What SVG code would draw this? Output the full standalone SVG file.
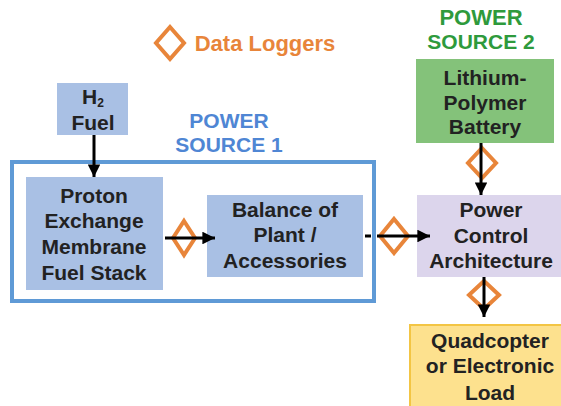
<svg xmlns="http://www.w3.org/2000/svg" width="561" height="406" viewBox="0 0 561 406">
<defs>
<style>
text{font-family:"Liberation Sans",Arial,sans-serif;font-weight:bold;font-size:21px;fill:#222;text-anchor:middle}
.blue{fill:#a9c0e4}
.dl{fill:none;stroke:#e8853a;stroke-width:4}
.ln{stroke:#000;stroke-width:3;fill:none}
</style>
<marker id="ah" viewBox="0 0 10 10" refX="10" refY="5" markerWidth="4.2" markerHeight="4.2" orient="auto" markerUnits="strokeWidth">
<path d="M0,0 L10,5 L0,10 Z" fill="#000"/>
</marker>
</defs>
<rect width="561" height="406" fill="#fff"/>

<g id="legend">
<path class="dl" d="M170,27 L184,43 L170,59 L156,43 Z"/>
<text x="265" y="51" style="fill:#e8853a;font-size:22px">Data Loggers</text>
</g>

<g id="power-source-1">
<rect x="12" y="162" width="362" height="139" fill="none" stroke="#5f9ad6" stroke-width="4"/>
<text x="229" y="128" style="fill:#4f86d4">POWER</text>
<text x="229" y="152" style="fill:#4f86d4">SOURCE 1</text>
</g>

<g id="power-source-2-label">
<text x="481" y="25" style="fill:#2e9a3c;font-size:22px">POWER</text>
<text x="481" y="49" style="fill:#2e9a3c">SOURCE 2</text>
</g>

<g id="h2-fuel">
<rect class="blue" x="57" y="83" width="71" height="52"/>
<text x="93" y="104">H<tspan font-size="12" dy="3">2</tspan></text>
<text x="93" y="130">Fuel</text>
</g>

<g id="pem-fuel-stack">
<rect class="blue" x="26" y="177" width="137" height="113"/>
<text x="94" y="203">Proton</text>
<text x="94" y="228">Exchange</text>
<text x="94" y="254">Membrane</text>
<text x="94" y="280">Fuel Stack</text>
</g>

<g id="balance-of-plant">
<rect class="blue" x="207" y="195" width="156" height="82"/>
<text x="285" y="217">Balance of</text>
<text x="285" y="242">Plant /</text>
<text x="285" y="268">Accessories</text>
</g>

<g id="battery">
<rect x="416" y="59" width="138" height="84" fill="#84c27a"/>
<text x="485" y="85">Lithium-</text>
<text x="485" y="110">Polymer</text>
<text x="485" y="134">Battery</text>
</g>

<g id="power-control">
<rect x="417" y="195" width="146" height="82" fill="#dcd5ec"/>
<text x="491" y="217">Power</text>
<text x="491" y="243">Control</text>
<text x="491" y="268">Architecture</text>
</g>

<g id="load">
<rect x="410" y="325" width="153" height="83" fill="#fde18e" stroke="#f3c544" stroke-width="2"/>
<text x="490" y="348">Quadcopter</text>
<text x="490" y="373">or Electronic</text>
<text x="490" y="400">Load</text>
</g>

<g id="data-loggers">
<path class="dl" d="M184,221 L195,238 L184,255 L173,238 Z"/>
<path class="dl" d="M394,219 L408,236 L394,253 L380,236 Z"/>
<path class="dl" d="M482,148 L496,163 L482,178 L468,163 Z"/>
<path class="dl" d="M484,281 L499,295 L484,309 L469,295 Z"/>
</g>

<g id="connectors">
<line class="ln" x1="94" y1="135" x2="94" y2="177" marker-end="url(#ah)"/>
<line class="ln" x1="165" y1="238" x2="215" y2="238" marker-end="url(#ah)"/>
<line class="ln" x1="365" y1="236" x2="371" y2="236"/>
<line class="ln" x1="377" y1="236" x2="430" y2="236" marker-end="url(#ah)"/>
<line class="ln" x1="481" y1="143" x2="481" y2="195" marker-end="url(#ah)"/>
<line class="ln" x1="484" y1="277" x2="484" y2="317" marker-end="url(#ah)"/>
</g>
</svg>
